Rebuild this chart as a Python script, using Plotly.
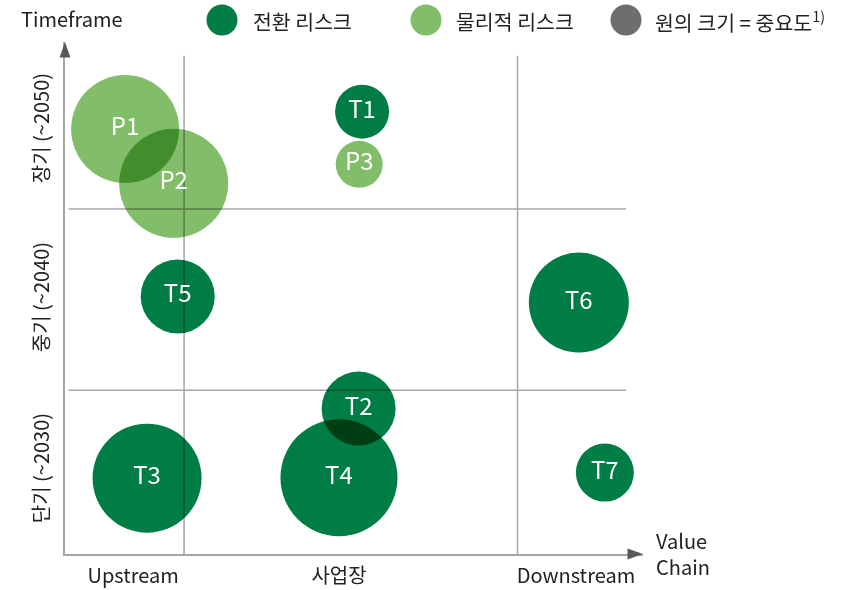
import plotly.graph_objects as go

# ---------------- data ----------------
transition_labels = ["T1", "T2", "T3", "T4", "T5", "T6", "T7"]
transition_x = [51.4, 50.8, 14.2, 47.4, 19.5, 88.9, 93.4]
transition_y = [86.4, 28.4, 14.8, 14.9, 50.3, 49.1, 15.9]
transition_size = [54, 74, 109, 117, 74, 100, 58]

physical_labels = ["P1", "P2", "P3"]
physical_x = [10.4, 18.8, 50.9]
physical_y = [83.0, 72.4, 76.1]
physical_size = [108, 109, 47]

value_chain_ticks = ["Upstream", "사업장", "Downstream"]
value_chain_pos = [11.8, 47.4, 88.4]
timeframe_ticks = ["단기 (~2030)", "중기 (~2040)", "장기 (~2050)"]
timeframe_pos = [16.2, 49.6, 82.6]

value_chain_bounds = [20.6, 78.3]
timeframe_bounds = [32.0, 67.4]

legend_names = ["전환 리스크", "물리적 리스크", "원의 크기 = 중요도<sup>1)</sup>"]

# ---------------- style ----------------
FONT = "Noto Sans CJK KR, Noto Sans, sans-serif"
DARK = "#007d45"
LIGHT = "#82be69"
GRAY = "#6e6e6e"
GRID = "#a6a6a6"
ARROW = "#595959"
TXT = "#222222"

W, H = 847, 590
ML, MR, MT, MB = 65, 204, 42, 36
PW, PH = W - ML - MR, H - MT - MB


def px2paper_x(px):
    return (px - ML) / PW


def px2paper_y(py):
    return (H - MB - py) / PH


fig = go.Figure()

fig.add_trace(go.Scatter(
    x=physical_x, y=physical_y, text=physical_labels,
    mode="markers+text", cliponaxis=False,
    marker=dict(size=physical_size, sizemode="diameter", color=LIGHT,
                opacity=1, line=dict(width=0)),
    textposition="middle center",
    textfont=dict(family=FONT, size=24, color="white"),
    name="물리적 리스크", showlegend=False, hoverinfo="skip",
))
fig.add_trace(go.Scatter(
    x=transition_x, y=transition_y, text=transition_labels,
    mode="markers+text", cliponaxis=False,
    marker=dict(size=transition_size, sizemode="diameter", color=DARK,
                opacity=1, line=dict(width=0)),
    textposition="middle center",
    textfont=dict(family=FONT, size=24, color="white"),
    name="전환 리스크", showlegend=False, hoverinfo="skip",
))

shapes = []
# quadrant boundaries
for xb in value_chain_bounds:
    shapes.append(dict(type="line", xref="x", yref="y", x0=xb, x1=xb, y0=0, y1=97.3,
                       line=dict(color=GRID, width=1.5), layer="below"))
for yb in timeframe_bounds:
    shapes.append(dict(type="line", xref="x", yref="y", x0=0.6, x1=97.1, y0=yb, y1=yb,
                       line=dict(color=GRID, width=1.5), layer="below"))

# arrowheads
hx = 5.4 / PW
hy = 5.4 / PH
ty = 15.5 / PH
tx = 15.5 / PW
shapes.append(dict(type="path", xref="paper", yref="paper",
                   path=f"M {-hx} {1 - ty} L {hx} {1 - ty} L 0 1 Z",
                   fillcolor=ARROW, line=dict(width=0), layer="above"))
shapes.append(dict(type="path", xref="paper", yref="paper",
                   path=f"M {1 - tx} {-hy} L {1 - tx} {hy} L 1 0 Z",
                   fillcolor=ARROW, line=dict(width=0), layer="above"))

# legend symbols
legend_colors = [DARK, LIGHT, GRAY]
legend_cx = [222, 426, 626]
legend_tx = [251, 454, 653]
legend_cy = 20
for c, cx in zip(legend_colors, legend_cx):
    shapes.append(dict(type="circle", xref="paper", yref="paper",
                       xsizemode="pixel", ysizemode="pixel",
                       xanchor=px2paper_x(cx), yanchor=px2paper_y(legend_cy),
                       x0=-15.5, x1=15.5, y0=-15.5, y1=15.5,
                       fillcolor=c, line=dict(width=0)))

annotations = []
for name, tx_ in zip(legend_names, legend_tx):
    annotations.append(dict(text=name, xref="paper", yref="paper",
                            x=px2paper_x(tx_), y=px2paper_y(legend_cy + 1),
                            xanchor="left", yanchor="middle", showarrow=False,
                            font=dict(family=FONT, size=20.5, color=TXT)))
annotations.append(dict(text="Timeframe", xref="paper", yref="paper",
                        x=px2paper_x(19), y=px2paper_y(18),
                        xanchor="left", yanchor="middle", showarrow=False,
                        font=dict(family=FONT, size=20, color=TXT)))
annotations.append(dict(text="Value<br>Chain", xref="paper", yref="paper",
                        x=px2paper_x(654), y=px2paper_y(553), align="left",
                        xanchor="left", yanchor="middle", showarrow=False,
                        font=dict(family=FONT, size=20, color=TXT)))

fig.update_layout(
    width=W, height=H,
    margin=dict(l=ML, r=MR, t=MT, b=MB, pad=0, autoexpand=False),
    paper_bgcolor="white", plot_bgcolor="white",
    showlegend=False,
    shapes=shapes, annotations=annotations,
    font=dict(family=FONT, size=20, color=TXT),
    xaxis=dict(range=[0, 100], showgrid=False, zeroline=False, automargin=False,
               showline=True, linecolor=GRID, linewidth=2,
               tickvals=value_chain_pos, ticktext=value_chain_ticks,
               ticks="", ticklabelstandoff=3,
               tickfont=dict(family=FONT, size=20, color=TXT),
               fixedrange=True),
    yaxis=dict(range=[0, 100], showgrid=False, zeroline=False, automargin=False,
               showline=True, linecolor=GRID, linewidth=2,
               tickvals=timeframe_pos, ticktext=timeframe_ticks,
               ticks="", tickangle=-90, ticklabelstandoff=6,
               tickfont=dict(family=FONT, size=20, color=TXT),
               fixedrange=True),
)

post_script = """
document.documentElement.style.margin = '0';
document.documentElement.style.padding = '0';
document.body.style.margin = '0';
document.body.style.padding = '0';
document.body.style.overflow = 'hidden';
var gd = document.getElementById('{plot_id}');
function blendPts(){
  gd.querySelectorAll('.scatterlayer .trace path.point').forEach(function(p){
    p.style.mixBlendMode = 'multiply';
  });
}
blendPts();
if (gd.on) { gd.on('plotly_afterplot', blendPts); }
"""

fig.write_html("out.html", post_script=post_script, config={"displayModeBar": False})
